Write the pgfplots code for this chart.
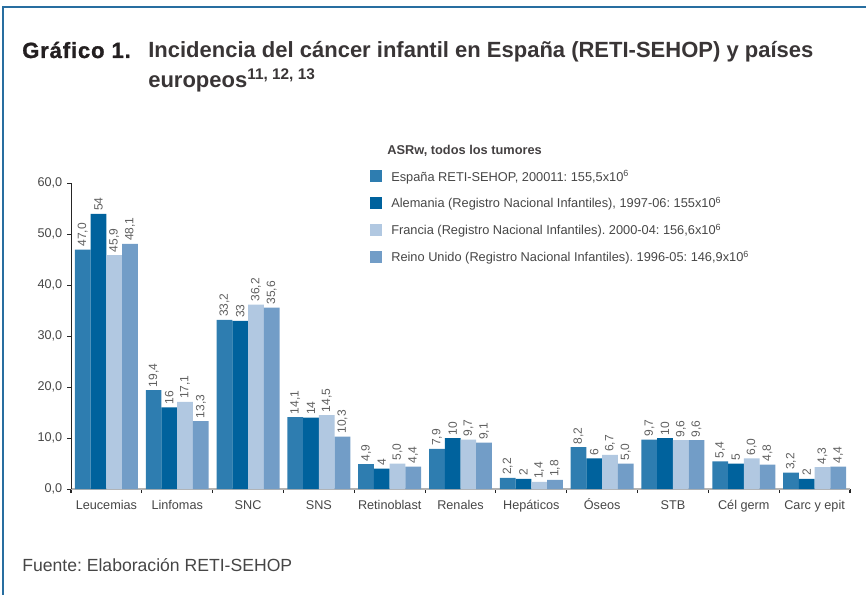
\documentclass[border=0pt]{standalone}
\usepackage{fontspec}
\setmainfont{Liberation Sans}
\usepackage{pgfplots}
\usepackage{pgfplotstable}
\pgfplotsset{compat=1.18}
\frenchspacing

\definecolor{cEsp}{RGB}{46,125,176}
\definecolor{cAle}{RGB}{0,98,157}
\definecolor{cFra}{RGB}{177,200,225}
\definecolor{cRU}{RGB}{114,157,199}
\definecolor{frameblue}{RGB}{40,110,160}
\definecolor{titletxt}{RGB}{35,31,32}
\definecolor{txt}{RGB}{70,70,70}
\definecolor{valtxt}{RGB}{95,95,95}

\pgfplotstableread{
x y lab
0 47.0 47,0
1 19.4 19,4
2 33.2 33,2
3 14.1 14,1
4 4.9 4,9
5 7.9 7,9
6 2.2 2,2
7 8.2 8,2
8 9.7 9,7
9 5.4 5,4
10 3.2 3,2
}\tEsp
\pgfplotstableread{
x y lab
0 54 54
1 16 16
2 33 33
3 14 14
4 4 4
5 10 10
6 2 2
7 6 6
8 10 10
9 5 5
10 2 2
}\tAle
\pgfplotstableread{
x y lab
0 45.9 45,9
1 17.1 17,1
2 36.2 36,2
3 14.5 14,5
4 5.0 5,0
5 9.7 9,7
6 1.4 1,4
7 6.7 6,7
8 9.6 9,6
9 6.0 6,0
10 4.3 4,3
}\tFra
\pgfplotstableread{
x y lab
0 48.1 48,1
1 13.3 13,3
2 35.6 35,6
3 10.3 10,3
4 4.4 4,4
5 9.1 9,1
6 1.8 1,8
7 5.0 5,0
8 9.6 9,6
9 4.8 4,8
10 4.4 4,4
}\tRU

\begin{document}
\frenchspacing
\begin{tikzpicture}
\begin{scope}[x=0.75pt,y=-0.75pt]
\path[use as bounding box] (0,0) rectangle (866,595);
\draw[frameblue, line width=1.1pt] (3,595) -- (3,7) -- (866,7);
\node[anchor=base west, inner sep=0pt, text=titletxt, font=\fontsize{16.5}{19}\selectfont\bfseries\addfontfeature{FakeBold=1.2,LetterSpace=4}] at (22,58) {Gráfico 1.};
\node[anchor=base west, inner sep=0pt, text=titletxt!90, font=\fontsize{16.5}{19}\selectfont\bfseries] at (148,58) {Incidencia del cáncer infantil en España (RETI-SEHOP) y países};
\node[anchor=base west, inner sep=0pt, text=titletxt!90, font=\fontsize{16.5}{19}\selectfont\bfseries] at (148,88) {europeos\textsuperscript{11, 12, 13}};
\node[anchor=base west, inner sep=0pt, text=titletxt!85, font=\fontsize{9.6}{11}\selectfont\bfseries] at (387,154.5) {ASRw, todos los tumores};
\node[anchor=base west, inner sep=0pt, text=txt, font=\fontsize{13.2}{15}\selectfont] at (22,571) {Fuente: Elaboración RETI-SEHOP};
\end{scope}
\begin{axis}[
  at={(53.25pt,-366.75pt)}, anchor=south west,
  scale only axis, width=584.25pt, height=229.3pt,
  xmin=-0.5, xmax=10.5, ymin=0, ymax=60,
  axis x line=bottom, axis y line=left,
  x axis line style={-, draw=black!30, line width=1.4pt},
  y axis line style={-, draw=black!85, line width=0.7pt},
  ybar=0pt, bar width=11.8pt,
  xtick={0,...,10},
  xticklabels={Leucemias,Linfomas,SNC,SNS,Retinoblast,Renales,Hepáticos,Óseos,STB,Cél germ,Carc y epit},
  minor xtick={-0.5,0.5,...,10.5},
  ytick={0,10,...,60},
  yticklabels={{0,0},{10,0},{20,0},{30,0},{40,0},{50,0},{60,0}},
  tick align=outside,
  major tick length=3pt, minor tick length=3pt,
  major x tick style={draw=none},
  minor x tick style={draw=black!85, line width=0.8pt},
  major y tick style={draw=black!85, line width=0.7pt},
  ticklabel style={font=\fontsize{9.5}{11}\selectfont, text=txt},
  xticklabel style={yshift=-2pt, text height=7pt, text depth=2pt},
  nodes near coords,
  point meta=explicit symbolic,
  nodes near coords style={rotate=90, anchor=west, inner sep=2pt, font=\fontsize{9}{10}\selectfont, text=valtxt},
  legend style={at={(0.3787,1.0533)}, anchor=north west, draw=none, fill=none,
    font=\fontsize{9.6}{11}\selectfont\frenchspacing, text=txt, row sep=10.4pt,
    nodes={inner sep=0pt}},
  legend cell align=left,
  legend image code/.code={\fill[#1] (0pt,-4.5pt) rectangle (9pt,4.5pt); \path (15.75pt,0pt);},
]
\addplot[fill=cEsp, draw=none] table[x=x,y=y,meta=lab]{\tEsp};
\addplot[fill=cAle, draw=none] table[x=x,y=y,meta=lab]{\tAle};
\addplot[fill=cFra, draw=none] table[x=x,y=y,meta=lab]{\tFra};
\addplot[fill=cRU, draw=none] table[x=x,y=y,meta=lab]{\tRU};
\legend{{España RETI-SEHOP, 200011: 155,5x10\textsuperscript{6}},
        {Alemania (Registro Nacional Infantiles), 1997-06: 155x10\textsuperscript{6}},
        {Francia (Registro Nacional Infantiles). 2000-04: 156,6x10\textsuperscript{6}},
        {Reino Unido (Registro Nacional Infantiles). 1996-05: 146,9x10\textsuperscript{6}}}
\end{axis}
\end{tikzpicture}
\end{document}
